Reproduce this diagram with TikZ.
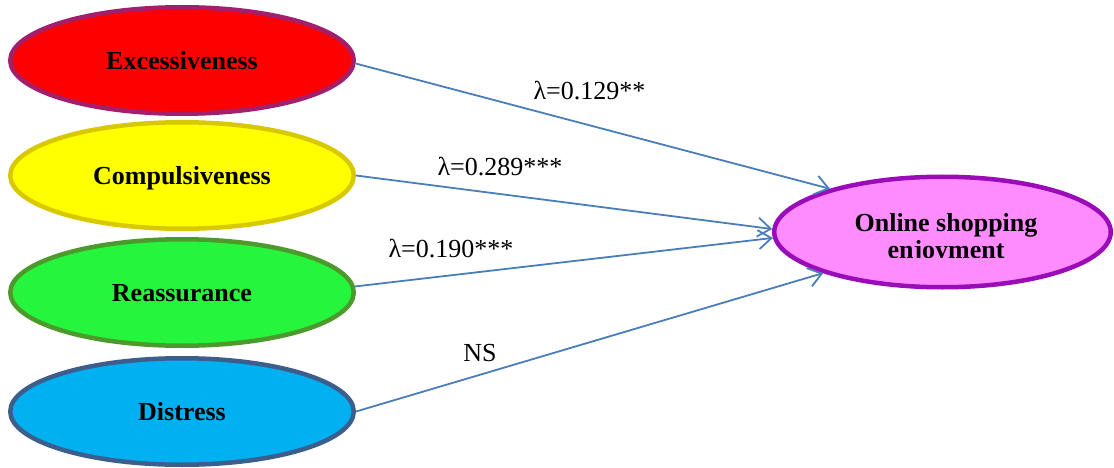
\documentclass[tikz,border=0pt]{standalone}
\usepackage{fontspec}
\setmainfont{Liberation Serif}
\usetikzlibrary{shapes.geometric,arrows.meta}
\definecolor{efill}{HTML}{FF0000}
\definecolor{eline}{HTML}{A31F6B}
\definecolor{cfill}{HTML}{FFFF00}
\definecolor{cline}{HTML}{D8C800}
\definecolor{rfill}{HTML}{26F53E}
\definecolor{rline}{HTML}{4B9A2B}
\definecolor{dfill}{HTML}{00B0F0}
\definecolor{dline}{HTML}{3B5E8C}
\definecolor{ofill}{HTML}{FF8CFF}
\definecolor{oline}{HTML}{9A0CB8}
\definecolor{linkblue}{HTML}{4A7EBB}
\begin{document}
\begin{tikzpicture}[x=1pt,y=-1pt,
  oval/.style={ellipse, line width=4.5pt, inner sep=0pt,
    font=\fontsize{26}{25}\selectfont\bfseries,
    text height=17.2pt, text depth=0pt,
    minimum width=343.5pt, minimum height=106.5pt},
  lbl/.style={font=\fontsize{26}{30}\selectfont, inner sep=0pt,
    text height=17.5pt, text depth=0pt},
  link/.style={draw=linkblue, line width=1.8pt,
    -{Straight Barb[length=13pt,width=19pt,line width=1.8pt]}}]
\useasboundingbox (0,0) rectangle (1114,468);
\node[oval, fill=efill, draw=eline] (E) at (182,60.5) {Excessiveness};
\node[oval, fill=cfill, draw=cline] (C) at (182,175.5) {Compulsiveness};
\node[oval, fill=rfill, draw=rline] (R) at (182,292.5) {Reassurance};
\node[oval, fill=dfill, draw=dline] (D) at (182,411.5) {Distress};
\node[oval, fill=ofill, draw=oline, minimum width=336.5pt, minimum height=110.5pt] (O) at (942.5,232) {};
\begin{scope}
  \clip (700,150) rectangle (1114,257);
  \node[font=\fontsize{26}{26.5}\selectfont\bfseries, align=center, inner sep=0pt] (OT) at (946,238.6) {Online shopping\\enjoyment};
\end{scope}
\draw[link] (E.-1) -- (O.159.85);
\draw[link] (C.east) -- (O.179.7);
\draw[link] (R.2) -- (O.182.7);
\draw[link] (D.east) -- (O.199.7);
\node[lbl] (L1) at (589.5,90.5) {λ=0.129**};
\node[lbl] (L2) at (500,166.7) {λ=0.289***};
\node[lbl] (L3) at (451,249) {λ=0.190***};
\node[lbl] (L4) at (480,353) {NS};
\end{tikzpicture}
\end{document}
